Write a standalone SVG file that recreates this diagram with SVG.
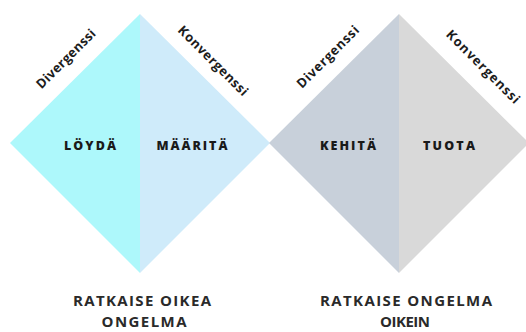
<svg xmlns="http://www.w3.org/2000/svg" width="526" height="332" viewBox="0 0 526 332">
<style>
.lbl{font-family:"Open Sans","Liberation Sans",sans-serif;font-weight:800;font-size:12.5px;fill:#1a1a1a;text-anchor:middle}
.rot{font-family:"Open Sans","Liberation Sans",sans-serif;font-weight:700;font-size:13px;fill:#1c1c1c;text-anchor:middle}
.cap{font-family:"Open Sans","Liberation Sans",sans-serif;font-weight:700;font-size:15px;fill:#2a2a2a;text-anchor:middle}
</style>
<rect width="526" height="332" fill="#ffffff"/>
<g id="diamond1">
<polygon points="140,14 10,143 140,273" fill="#adf8fb"/>
<polygon points="140,14 270,143 140,273" fill="#cfebfa"/>
<text class="lbl" x="90" y="150" textLength="52" lengthAdjust="spacing">LÖYDÄ</text>
<text class="lbl" x="192" y="150" textLength="71" lengthAdjust="spacing">MÄÄRITÄ</text>
<text class="rot" transform="translate(69,62) rotate(-45)" textLength="78" lengthAdjust="spacing">Divergenssi</text>
<text class="rot" transform="translate(210,64) rotate(45)" textLength="93" lengthAdjust="spacing">Konvergenssi</text>
</g>
<g id="diamond2">
<polygon points="399,14 269,143 399,273" fill="#c8d0da"/>
<polygon points="399,14 529,143 399,273" fill="#d9d9d9"/>
<text class="lbl" x="348" y="150" textLength="56" lengthAdjust="spacing">KEHITÄ</text>
<text class="lbl" x="449" y="150" textLength="52" lengthAdjust="spacing">TUOTA</text>
<text class="rot" transform="translate(331,60) rotate(-45)" textLength="82" lengthAdjust="spacing">Divergenssi</text>
<text class="rot" transform="translate(480,70) rotate(45)" textLength="98" lengthAdjust="spacing">Konvergenssi</text>
</g>
<g id="caption1">
<text class="cap" x="142" y="306" textLength="138" lengthAdjust="spacing">RATKAISE OIKEA</text>
<text class="cap" x="144" y="327" textLength="85" lengthAdjust="spacing">ONGELMA</text>
</g>
<g id="caption2">
<text class="cap" x="406" y="306" textLength="172" lengthAdjust="spacing">RATKAISE ONGELMA</text>
<text class="cap" x="405" y="327" textLength="50" lengthAdjust="spacing">OIKEIN</text>
</g>
<g id="connectors"/>
</svg>
